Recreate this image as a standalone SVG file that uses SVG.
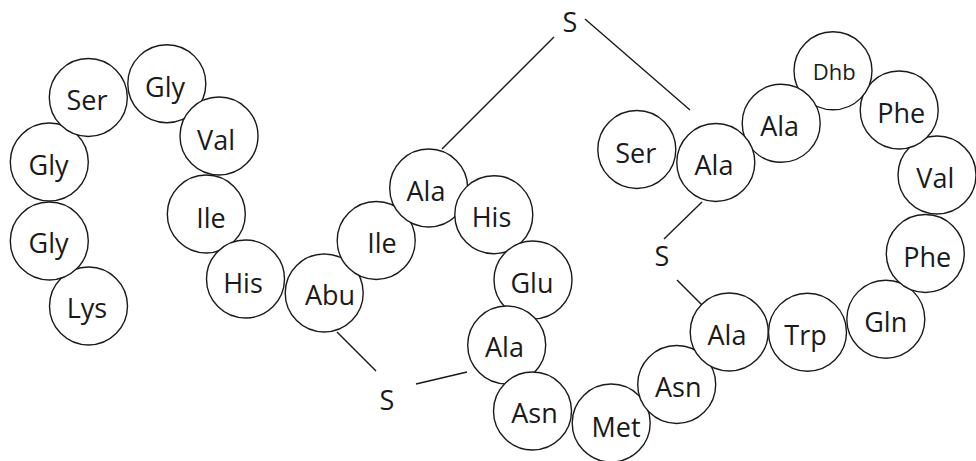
<svg xmlns="http://www.w3.org/2000/svg" width="976" height="461" viewBox="0 0 976 461">
  <style>
    .res circle { fill: #ffffff; stroke: #1a1a1a; stroke-width: 1.4; }
    .res text { font-family: "Open Sans", "Liberation Sans", sans-serif; font-size: 27px; fill: #1a1a1a; text-anchor: middle; }
    .res text.small { font-size: 22px; }
    .bond line { stroke: #1a1a1a; stroke-width: 1.4; }
    .sulfur text { font-family: "Open Sans", "Liberation Sans", sans-serif; font-size: 27px; fill: #1a1a1a; text-anchor: middle; }
  </style>
  <rect width="976" height="461" fill="#ffffff"/>

  <!-- thioether bridges -->
  <g id="connectors" class="bond">
    <line x1="337" y1="332" x2="376" y2="371"/>
    <line x1="416" y1="384" x2="467" y2="372"/>
    <line x1="554" y1="37" x2="442" y2="149"/>
    <line x1="585" y1="19" x2="690" y2="110"/>
    <line x1="702" y1="202" x2="664" y2="239"/>
    <line x1="677" y1="280" x2="702" y2="305"/>
  </g>

  <!-- sulfur atoms -->
  <g id="s1" class="sulfur"><text x="387" y="410">S</text></g>
  <g id="s2" class="sulfur"><text x="570" y="32">S</text></g>
  <g id="s3" class="sulfur"><text x="662" y="266">S</text></g>

  <!-- residue chain -->
  <g id="lys" class="res"><circle cx="88.5" cy="306" r="39"/><text x="87" y="318">Lys</text></g>
  <g id="gly1" class="res"><circle cx="49.3" cy="241" r="39"/><text x="48.5" y="253">Gly</text></g>
  <g id="gly2" class="res"><circle cx="49.3" cy="162" r="39"/><text x="48.5" y="175">Gly</text></g>
  <g id="ser1" class="res"><circle cx="88.3" cy="97.5" r="39"/><text x="87" y="110">Ser</text></g>
  <g id="gly3" class="res"><circle cx="166.8" cy="83.7" r="39"/><text x="165" y="96.5">Gly</text></g>
  <g id="val1" class="res"><circle cx="219" cy="136" r="39"/><text x="216" y="150">Val</text></g>
  <g id="ile1" class="res"><circle cx="206.3" cy="214" r="39"/><text x="211" y="228">Ile</text></g>
  <g id="his1" class="res"><circle cx="245.5" cy="279" r="39"/><text x="243" y="293">His</text></g>
  <g id="abu" class="res"><circle cx="324.2" cy="293" r="39"/><text x="330" y="305">Abu</text></g>
  <g id="ile2" class="res"><circle cx="376.2" cy="240.5" r="39"/><text x="382" y="253">Ile</text></g>
  <g id="ala1" class="res"><circle cx="428.7" cy="188" r="39"/><text x="426" y="201">Ala</text></g>
  <g id="his2" class="res"><circle cx="493.8" cy="214.7" r="39"/><text x="491.5" y="227">His</text></g>
  <g id="glu" class="res"><circle cx="533" cy="280" r="39"/><text x="532" y="292.7">Glu</text></g>
  <g id="ala2" class="res"><circle cx="506.7" cy="345" r="39"/><text x="504.5" y="357">Ala</text></g>
  <g id="asn1" class="res"><circle cx="532.5" cy="411" r="39"/><text x="534.5" y="423">Asn</text></g>
  <g id="met" class="res"><circle cx="611.2" cy="423" r="39"/><text x="616" y="436.7">Met</text></g>
  <g id="asn2" class="res"><circle cx="676.7" cy="384.5" r="39"/><text x="678.3" y="397.3">Asn</text></g>
  <g id="ala3" class="res"><circle cx="729.2" cy="332" r="39"/><text x="727" y="345">Ala</text></g>
  <g id="trp" class="res"><circle cx="807.5" cy="332.2" r="39"/><text x="805.5" y="345">Trp</text></g>
  <g id="gln" class="res"><circle cx="885.8" cy="319.2" r="39"/><text x="885.7" y="331.7">Gln</text></g>
  <g id="phe1" class="res"><circle cx="925.3" cy="253.5" r="39"/><text x="927.3" y="266.7">Phe</text></g>
  <g id="val2" class="res"><circle cx="937" cy="175" r="39"/><text x="935.3" y="188">Val</text></g>
  <g id="phe2" class="res"><circle cx="899.2" cy="110" r="39"/><text x="901.2" y="122.7">Phe</text></g>
  <g id="dhb" class="res"><circle cx="833" cy="70.8" r="39"/><text class="small" x="834.3" y="80">Dhb</text></g>
  <g id="ala4" class="res"><circle cx="781.2" cy="123.3" r="39"/><text x="779.7" y="136">Ala</text></g>
  <g id="ala5" class="res"><circle cx="715.8" cy="162.5" r="39"/><text x="714" y="175">Ala</text></g>
  <g id="ser2" class="res"><circle cx="636.8" cy="149.5" r="39"/><text x="635.8" y="162.5">Ser</text></g>
</svg>
